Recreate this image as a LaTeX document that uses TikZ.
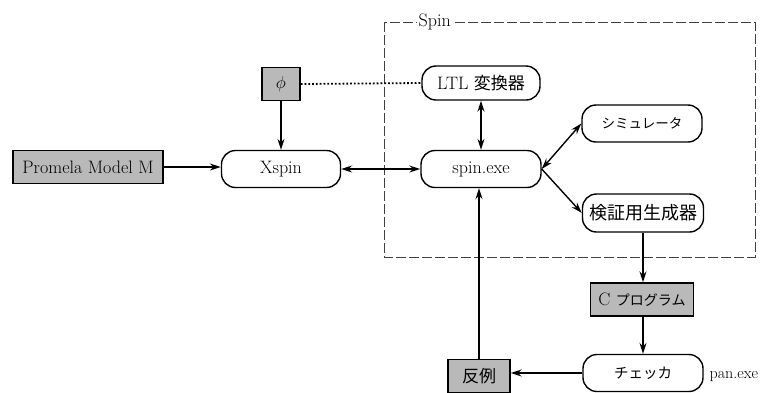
\documentclass[tikz,border=0pt]{standalone}
\usepackage{fontspec}
\newfontfamily\jp{Noto Sans CJK JP}
\usetikzlibrary{arrows.meta}
\tikzset{
 base/.style={font=\fontsize{18}{21}\selectfont, inner sep=0pt, line width=1.4pt},
 rbox/.style={base, draw, rounded corners=14pt, minimum width=#1, minimum height=37pt},
 gbox/.style={base, draw, fill=gray!55, minimum width=#1, minimum height=33pt},
 arr/.style={line width=1.4pt, -{Stealth[length=11pt,width=7pt]}},
 barr/.style={line width=1.4pt, {Stealth[length=11pt,width=7pt]}-{Stealth[length=11pt,width=7pt]}},
}
\begin{document}
\begin{tikzpicture}[x=1pt,y=-1pt]
\useasboundingbox (0,0) rectangle (772,392);
% Spin frame
\draw[line width=1pt, dash pattern=on 10pt off 3pt, black!75] (384,22) rectangle (755,257);
\node[base, fill=white, inner xsep=2pt, anchor=west] (spinlbl) at (416,22) {Spin};
% nodes
\node[gbox=150pt] (promela) at (88,167) {Promela Model M};
\node[gbox=38pt] (phi) at (281,84) {$\phi$};
\node[rbox=119pt] (xspin) at (281,169) {Xspin};
\node[rbox=118pt, minimum height=34pt] (ltl) at (481,83) {LTL {\jp\fontsize{17}{20}\selectfont 変換器}};
\node[rbox=120pt] (spin) at (481,169) {spin.exe};
\node[rbox=120pt] (sim) at (642,123.5) {\jp\fontsize{13.5}{16}\selectfont シミュレータ};
\node[rbox=121pt, minimum height=38pt] (ver) at (643,213) {\jp\fontsize{18}{21}\selectfont 検証用生成器};
\node[gbox=103pt] (cprog) at (642,299.5) {C {\jp\fontsize{14}{16}\selectfont プログラム}};
\node[rbox=120pt] (checker) at (643,373) {\jp\fontsize{14.5}{17}\selectfont チェッカ};
\node[gbox=62pt] (hanrei) at (479,376) {\jp\fontsize{17}{20}\selectfont 反例};
\node[base, anchor=west, font=\fontsize{16}{19}\selectfont] (pan) at (709,377) {pan.exe};
% connectors
\draw[line width=1.8pt, dotted] (phi.east) -- (ltl.west);
\draw[arr] (promela) -- (promela -| xspin.west);
\draw[arr] (phi) -- (phi |- xspin.north);
\draw[barr] (xspin) -- (spin);
\draw[barr] (ltl) -- (spin);
\draw[barr] (spin.east) -- (sim.west);
\draw[arr] (spin.east) -- (ver.west);
\draw[arr] (ver.south) -- (ver.south |- cprog.north);
\draw[arr] (ver.south |- cprog.south) -- (ver.south |- checker.north);
\draw[arr] (checker.west) -- (checker.west -| hanrei.east);
\draw[arr] (hanrei) -- (hanrei |- spin.south);
\end{tikzpicture}
\end{document}
